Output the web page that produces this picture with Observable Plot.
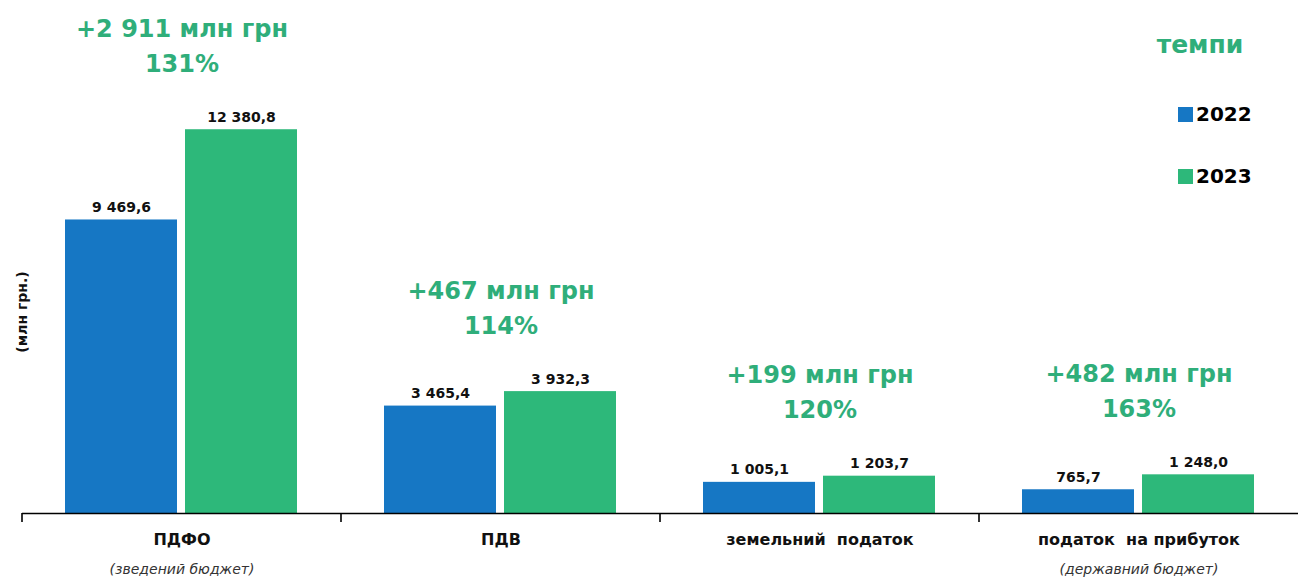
<!DOCTYPE html>
<html><head><meta charset="utf-8">
<script src="https://cdn.jsdelivr.net/npm/d3@7"></script>
<script src="https://cdn.jsdelivr.net/npm/@observablehq/plot@0.6"></script>
<style>
body{margin:0;background:#fff;}
#wrap{position:relative;width:1299px;height:578px;font-family:"DejaVu Sans",sans-serif;overflow:hidden;}
#wrap svg{position:absolute;left:0;top:0;}
.legtitle{position:absolute;left:1150px;width:100px;top:30px;text-align:center;font-weight:bold;font-size:25px;color:#2fae7a;line-height:30px;}
.legitem{position:absolute;left:1178px;font-weight:bold;font-size:20px;color:#000;line-height:24px;display:flex;align-items:center;}
.sw{display:inline-block;width:15px;height:15px;margin-right:3px;}
.ylab{position:absolute;left:22px;top:312px;transform:translate(-50%,-50%) rotate(-90deg);font-size:14px;font-weight:bold;white-space:nowrap;color:#111;}
</style></head><body>
<div id="wrap"></div>
<script>
const categories = ["ПДФО", "ПДВ", "земельний  податок", "податок  на прибуток"];
const subLabels = ["(зведений бюджет)", "", "", "(державний бюджет)"];
const years = ["2022", "2023"];
const values2022 = [9469.6, 3465.4, 1005.1, 765.7];
const values2023 = [12380.8, 3932.3, 1203.7, 1248.0];
const deltaLabels = ["+2 911 млн грн", "+467 млн грн", "+199 млн грн", "+482 млн грн"];
const growthLabels = ["131%", "114%", "120%", "163%"];
const legendTitle = "темпи";
const yLabel = "(млн грн.)";
const colors = ["#1677c4", "#2db87a"];

const rows = categories.flatMap((c, i) => [
  {category: c, year: years[0], value: values2022[i]},
  {category: c, year: years[1], value: values2023[i]}
]);
const notes = categories.map((c, i) => ({
  category: c,
  top: Math.max(values2022[i], values2023[i]),
  text: deltaLabels[i] + "\n" + growthLabels[i]
}));
const fmt = d3.formatLocale({decimal: ",", thousands: " ", grouping: [3], currency: ["", ""]}).format(",.1f");

const plot = Plot.plot({
  width: 1299, height: 578,
  marginLeft: 20, marginRight: 0, marginTop: 0, marginBottom: 65,
  style: {fontFamily: "DejaVu Sans, sans-serif", background: "transparent", overflow: "visible"},
  fx: {domain: categories, padding: 0, label: null},
  x: {domain: years, paddingInner: 0.066, paddingOuter: 0.355, axis: null},
  y: {domain: [0, 16550], axis: null},
  color: {domain: years, range: colors},
  marks: [
    Plot.barY(rows, {fx: "category", x: "year", y: "value", fill: "year"}),
    Plot.ruleY([0], {stroke: "#000", strokeWidth: 1.6}),
    Plot.text(rows, {fx: "category", x: "year", y: "value", text: d => fmt(d.value),
      lineAnchor: "bottom", dy: -8, fontSize: 14, fontWeight: "bold", fill: "#111"}),
    Plot.text(notes, {fx: "category", y: "top", text: "text", lineAnchor: "bottom", dy: -58,
      fontSize: 24, fontWeight: "bold", fill: "#2fae7a", lineHeight: 1.45}),
    Plot.axisFx({anchor: "bottom", tickSize: 0, tickPadding: 20, label: null,
      fontSize: 16, fontWeight: "bold", fill: "#111"}),
    Plot.axisFx({anchor: "bottom", tickSize: 0, tickPadding: 51, label: null,
      tickFormat: c => subLabels[categories.indexOf(c)], fontSize: 14, fontStyle: "italic", fill: "#333"})
  ]
});

// boundary ticks under the baseline, from the library's fx and y scales
const fxs = plot.scale("fx");
const y0 = plot.scale("y").apply(0);
const svg = d3.select(plot);
categories.forEach(c => {
  const x = fxs.apply(c);
  svg.append("line").attr("x1", x).attr("x2", x).attr("y1", y0).attr("y2", y0 + 9)
    .attr("stroke", "#000").attr("stroke-width", 1.6);
});

const wrap = document.getElementById("wrap");
wrap.appendChild(plot);

const t = document.createElement("div");
t.className = "legtitle"; t.textContent = legendTitle; wrap.appendChild(t);
years.forEach((yr, i) => {
  const d = document.createElement("div");
  d.className = "legitem";
  d.style.top = (102 + i * 62) + "px";
  const s = document.createElement("span");
  s.className = "sw"; s.style.background = colors[i];
  d.appendChild(s);
  d.appendChild(document.createTextNode(yr));
  wrap.appendChild(d);
});
const yl = document.createElement("div");
yl.className = "ylab"; yl.textContent = yLabel; wrap.appendChild(yl);
</script>
</body></html>
